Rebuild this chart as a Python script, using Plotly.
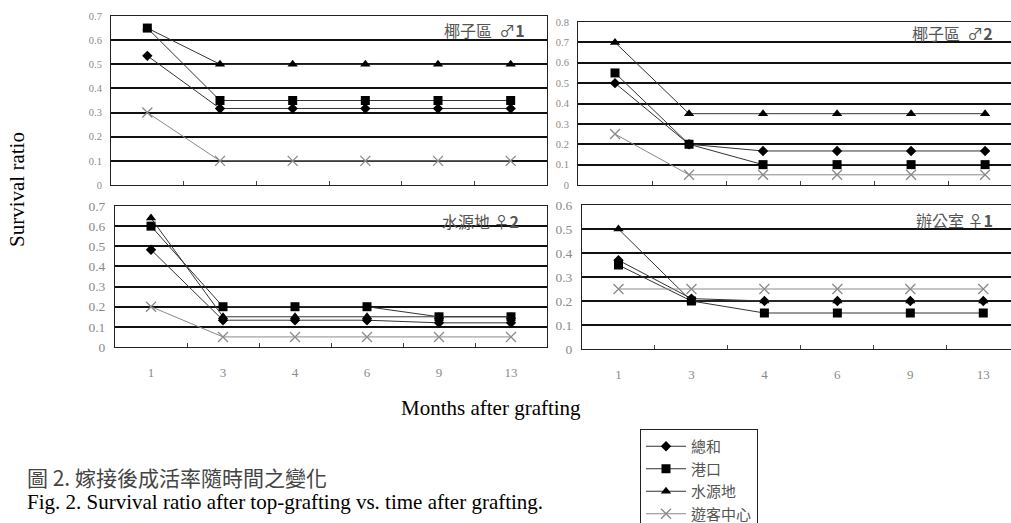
import plotly.graph_objects as go

W, H = 1011, 523

months = ["1", "3", "4", "6", "9", "13"]
series_names = ["總和", "港口", "水源地", "遊客中心"]
panel_titles = ["椰子區  ♂<b>1</b>", "椰子區  ♂<b>2</b>", "水源地 ♀<b>2</b>", "辦公室 ♀<b>1</b>"]
y_tops = [0.7, 0.8, 0.7, 0.6]

# 椰子區 ♂1
coco1_sum = [0.535, 0.317, 0.317, 0.317, 0.317, 0.317]
coco1_port = [0.65, 0.35, 0.35, 0.35, 0.35, 0.35]
coco1_water = [0.65, 0.5, 0.5, 0.5, 0.5, 0.5]
coco1_visitor = [0.3, 0.1, 0.1, 0.1, 0.1, 0.1]

# 椰子區 ♂2
coco2_sum = [0.5, 0.2, 0.167, 0.167, 0.167, 0.167]
coco2_port = [0.55, 0.2, 0.1, 0.1, 0.1, 0.1]
coco2_water = [0.7, 0.35, 0.35, 0.35, 0.35, 0.35]
coco2_visitor = [0.25, 0.05, 0.05, 0.05, 0.05, 0.05]

# 水源地 ♀2
water2_sum = [0.483, 0.133, 0.133, 0.133, 0.12, 0.12]
water2_port = [0.6, 0.2, 0.2, 0.2, 0.15, 0.15]
water2_water = [0.64, 0.15, 0.15, 0.15, 0.15, 0.15]
water2_visitor = [0.2, 0.05, 0.05, 0.05, 0.05, 0.05]

# 辦公室 ♀1
office1_sum = [0.37, 0.21, 0.2, 0.2, 0.2, 0.2]
office1_port = [0.35, 0.2, 0.15, 0.15, 0.15, 0.15]
office1_water = [0.5, 0.2, 0.2, 0.2, 0.2, 0.2]
office1_visitor = [0.25, 0.25, 0.25, 0.25, 0.25, 0.25]

panels = [
    [coco1_sum, coco1_port, coco1_water, coco1_visitor],
    [coco2_sum, coco2_port, coco2_water, coco2_visitor],
    [water2_sum, water2_port, water2_water, water2_visitor],
    [office1_sum, office1_port, office1_water, office1_visitor],
]

# pixel boxes of the four plot areas: (left, right, top, bottom)
boxes = [(111, 547, 16, 185), (578, W, 22, 185), (115, 547, 206, 347), (582, W, 205, 349)]
x_ranges = [[-0.5, 5.5], [-0.5, 5.35], [-0.5, 5.5], [-0.5, 5.38]]

styles = [
    dict(symbol="diamond", size=8, color="black", line_color="#333"),
    dict(symbol="square", size=9, color="black", line_color="#333"),
    dict(symbol="triangle-up", size=9, color="black", line_color="#333"),
    dict(symbol="x-thin", size=10, color="#8a8a8a", line_color="#8a8a8a"),
]


def px_x(p):
    return p / W


def px_y(p):
    return 1 - p / H


fig = go.Figure()

for i, data in enumerate(panels):
    sfx = "" if i == 0 else str(i + 1)
    for j, vals in enumerate(data):
        st = styles[j]
        marker = dict(symbol=st["symbol"], size=st["size"], color=st["color"])
        if st["symbol"] == "x-thin":
            marker["line"] = dict(color=st["color"], width=1.3)
        fig.add_trace(go.Scatter(
            x=months, y=vals, name=series_names[j],
            mode="lines+markers",
            line=dict(color=st["line_color"], width=1),
            marker=marker,
            xaxis="x" + sfx, yaxis="y" + sfx,
            showlegend=(i == 0), legendgroup=series_names[j],
        ))

layout = dict(
    width=W, height=H,
    margin=dict(l=0, r=0, t=0, b=0, autoexpand=False),
    paper_bgcolor="white", plot_bgcolor="white",
    showlegend=True,
    legend=dict(
        x=px_x(640), y=px_y(429), xanchor="left", yanchor="top",
        bordercolor="#222", borderwidth=1, bgcolor="white",
        font=dict(family="Noto Sans CJK TC", size=15, color="#555"),
        tracegroupgap=0, itemwidth=40,
    ),
)

for i, (l, r, t, b) in enumerate(boxes):
    sfx = "" if i == 0 else str(i + 1)
    bottom_row = i >= 2
    left_col = i % 2 == 0
    layout["xaxis" + sfx] = dict(
        domain=[px_x(l), px_x(r)], anchor="y" + sfx,
        type="category", range=x_ranges[i],
        showgrid=False, zeroline=False,
        showline=True, linecolor="#222", linewidth=1, mirror=True,
        ticks="inside", tickson="boundaries", ticklen=4, tickcolor="#444",
        showticklabels=bottom_row, ticklabelstandoff=13,
        tickfont=dict(family="Liberation Serif", size=13, color="#8a8a8a"),
        fixedrange=True,
    )
    layout["yaxis" + sfx] = dict(
        domain=[px_y(b), px_y(t)], anchor="x" + sfx,
        range=[0, y_tops[i]], dtick=0.1,
        tickformat="~g",
        showgrid=True, gridcolor="#111", gridwidth=1.6,
        zeroline=False,
        showline=True, linecolor="#222", linewidth=1, mirror=left_col,
        ticks="", ticklabelstandoff=6,
        tickfont=dict(family="Liberation Serif", size=10.5 if not bottom_row else 13.5, color="#8a8a8a"),
        fixedrange=True,
    )

fig.update_layout(**layout)

# panel labels
title_pos = [(527, 30), (995, 33), (521, 221), (995, 220)]
for (tx, ty), txt in zip(title_pos, panel_titles):
    fig.add_annotation(
        x=px_x(tx), y=px_y(ty), xref="paper", yref="paper",
        xanchor="right", yanchor="middle", showarrow=False,
        text=txt, font=dict(family="Noto Sans CJK TC", size=16, color="#555"),
    )

fig.add_annotation(
    x=px_x(17), y=px_y(190), xref="paper", yref="paper", textangle=-90,
    xanchor="center", yanchor="middle",
    showarrow=False, text="Survival ratio",
    font=dict(family="Liberation Serif", size=21, color="black"),
)
fig.add_annotation(
    x=px_x(491), y=px_y(408), xref="paper", yref="paper",
    xanchor="center", yanchor="middle",
    showarrow=False, text="Months after grafting",
    font=dict(family="Liberation Serif", size=21, color="black"),
)
fig.add_annotation(
    x=px_x(25), y=px_y(477), xref="paper", yref="paper",
    xanchor="left", yanchor="middle",
    showarrow=False, text="圖 2. 嫁接後成活率隨時間之變化",
    font=dict(family="Noto Sans CJK TC", size=21, color="#444"),
)
fig.add_annotation(
    x=px_x(25), y=px_y(502), xref="paper", yref="paper",
    xanchor="left", yanchor="middle",
    showarrow=False, text="Fig. 2. Survival ratio after top-grafting vs. time after grafting.",
    font=dict(family="Liberation Serif", size=21, color="black"),
)

fig.write_html("out.html")
